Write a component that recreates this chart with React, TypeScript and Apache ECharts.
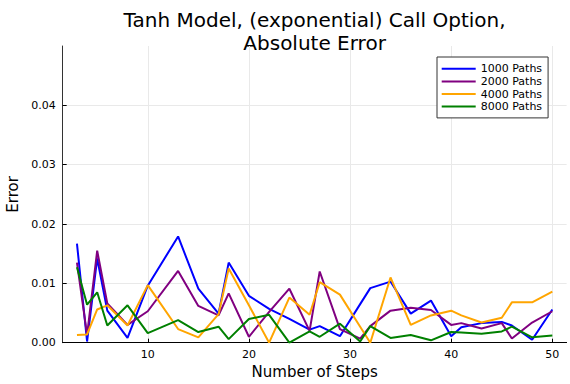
import React, { useEffect, useRef } from "react";
import * as echarts from "echarts";

const steps = [3, 4, 5, 6, 8, 10, 13, 15, 17, 18, 20, 22, 24, 26, 27, 29, 31, 32, 34, 36, 38, 40, 41, 43, 45, 46, 48, 50];

const err1000 = [0.0167, 0.0002, 0.0142, 0.0054, 0.0008, 0.0096, 0.0179, 0.0091, 0.0049, 0.0135, 0.0079, 0.0057, 0.004, 0.0022, 0.0028, 0.0011, 0.0065, 0.0092, 0.0103, 0.0049, 0.0071, 0.0011, 0.0026, 0.0033, 0.0035, 0.0029, 0.0005, 0.0056];
const err2000 = [0.0135, 0.0013, 0.0155, 0.0066, 0.003, 0.0053, 0.0121, 0.0062, 0.0046, 0.0083, 0.001, 0.0052, 0.0091, 0.002, 0.012, 0.0023, 0.0007, 0.0028, 0.0054, 0.0059, 0.0055, 0.003, 0.0033, 0.0024, 0.0033, 0.0007, 0.0034, 0.0053];
const err4000 = [0.0013, 0.0014, 0.0056, 0.0063, 0.0029, 0.0097, 0.0023, 0.0009, 0.0048, 0.0125, 0.0063, 0.0, 0.0076, 0.0047, 0.0102, 0.0081, 0.0027, 0.0, 0.011, 0.003, 0.0046, 0.0054, 0.0046, 0.0034, 0.0042, 0.0068, 0.0068, 0.0086];
const err8000 = [0.0127, 0.0064, 0.0085, 0.0029, 0.0063, 0.0016, 0.0038, 0.0018, 0.0027, 0.0006, 0.004, 0.0047, 0.0, 0.0019, 0.001, 0.0032, 0.0002, 0.0028, 0.0008, 0.0013, 0.0004, 0.0018, 0.0017, 0.0015, 0.0019, 0.0027, 0.0009, 0.0012];

const seriesNames = ["1000 Paths", "2000 Paths", "4000 Paths", "8000 Paths"];
const seriesColors = ["#0000ff", "#800080", "#ffa500", "#008000"];
const xTicks = [10, 20, 30, 40, 50];
const yTicks = [0, 0.01, 0.02, 0.03, 0.04];
const titleText = "Tanh Model, (exponential) Call Option,\nAbsolute Error";
const xName = "Number of Steps";
const yName = "Error";

export default function App() {
  const ref = useRef<HTMLDivElement>(null);
  useEffect(() => {
    const chart = echarts.init(ref.current!, null, { renderer: "svg" });
    const font = "DejaVu Sans";
    const values = [err1000, err2000, err4000, err8000];
    chart.setOption({
      animation: false,
      backgroundColor: "#ffffff",
      textStyle: { fontFamily: font },
      grid: { left: 62.7, right: 3.4, top: 46, bottom: 41.3, containLabel: false, outerBoundsMode: "none" },
      graphic: [
        {
          type: "text",
          x: 314.6,
          y: 8.5,
          style: {
            text: titleText,
            fontSize: 20,
            fontFamily: font,
            lineHeight: 23,
            align: "center",
            verticalAlign: "top",
            fill: "#000",
          },
        },
      ],
      legend: {
        orient: "vertical",
        left: 437,
        top: 57,
        padding: [5.5, 6, 5, 4.7],
        itemGap: 0,
        itemWidth: 34,
        itemHeight: 2,
        icon: "rect",
        backgroundColor: "#fff",
        borderColor: "#333",
        borderWidth: 1,
        borderRadius: 0,
        textStyle: { fontSize: 11, fontFamily: font, color: "#000", lineHeight: 12.6 },
        data: seriesNames.map((n, i) => ({ name: n, icon: "rect", itemStyle: { color: seriesColors[i], borderWidth: 0 } })),
      },
      xAxis: {
        type: "value",
        min: 1.59,
        max: 51.41,
        name: xName,
        nameLocation: "middle",
        nameGap: 22,
        nameTextStyle: { fontSize: 15, fontFamily: font, color: "#000" },
        axisLine: { show: true, onZero: false, lineStyle: { color: "#000", width: 1 } },
        axisTick: { show: true, inside: true, length: 4, customValues: xTicks, lineStyle: { color: "#000" } },
        axisLabel: { customValues: xTicks, fontSize: 11, color: "#000", margin: 6, fontFamily: font },
        splitLine: { show: true, lineStyle: { color: "#e9e9e9", width: 1 } },
      },
      yAxis: {
        type: "value",
        min: 0,
        max: 0.05,
        name: yName,
        nameLocation: "middle",
        nameGap: 42,
        nameTextStyle: { fontSize: 15, fontFamily: font, color: "#000" },
        axisLine: { show: true, lineStyle: { color: "#333", width: 1 } },
        axisTick: { show: true, inside: true, length: 4, customValues: yTicks, lineStyle: { color: "#000" } },
        axisLabel: {
          customValues: yTicks,
          fontSize: 11,
          color: "#000",
          margin: 7,
          fontFamily: font,
          formatter: (v: number) => v.toFixed(2),
        },
        splitLine: { show: true, lineStyle: { color: "#e9e9e9", width: 1 } },
      },
      series: seriesNames.map((name, i) => ({
        name,
        type: "line",
        data: steps.map((s, j) => [s, values[i][j]]),
        symbol: "none",
        showSymbol: false,
        color: seriesColors[i],
        lineStyle: { color: seriesColors[i], width: 2 },
        itemStyle: { color: seriesColors[i] },
        clip: true,
      })),
    });
    return () => chart.dispose();
  }, []);
  return (
    <div
      ref={ref}
      style={{ position: "absolute", left: 0, top: 0, width: 570, height: 384, background: "#fff" }}
    />
  );
}
